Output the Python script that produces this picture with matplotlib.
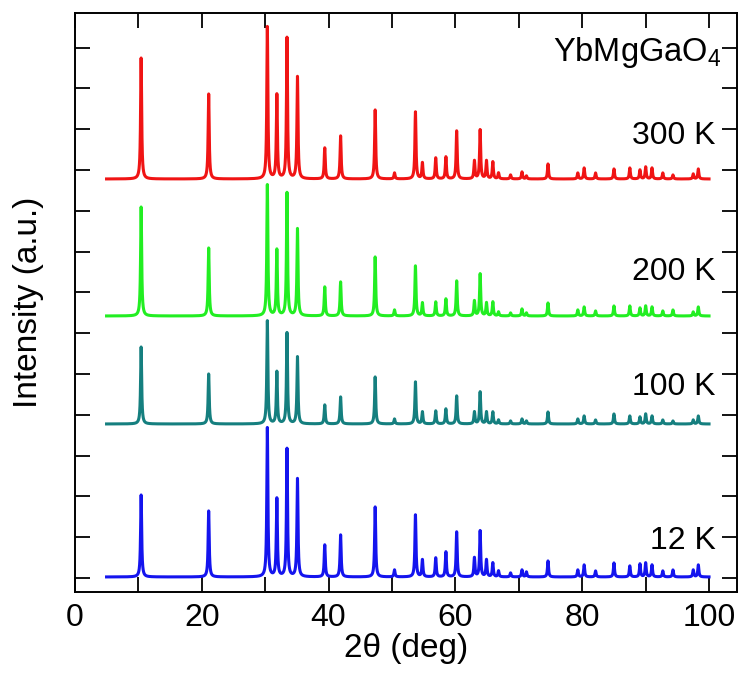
"""Stacked powder XRD patterns of YbMgGaO4 at several temperatures."""

import numpy as np
import matplotlib

matplotlib.use("Agg")
import matplotlib.pyplot as plt
from matplotlib.ticker import MultipleLocator, NullFormatter

plt.rcParams["font.family"] = ["Liberation Sans", "DejaVu Sans"]
plt.rcParams["mathtext.default"] = "regular"

# Bragg peak positions (2theta, deg), shared by all temperatures
peak_pos = [10.45, 21.1, 30.35, 31.85, 33.45, 35.1, 39.4, 41.9, 47.35, 50.4,
            53.7, 54.8, 56.9, 58.5, 60.2, 63.0, 63.9, 64.9, 65.9, 66.8,
            68.7, 70.5, 71.2, 74.6, 79.3, 80.3, 82.1, 85.0, 87.5, 89.1,
            90.0, 91.0, 92.7, 94.3, 97.5, 98.3]

# peak heights (a.u.), one list per temperature
h_300K = [121, 85, 152, 84, 141, 102, 31, 43, 69, 6, 67, 16, 21, 22, 48, 18,
          49, 18, 17, 6, 4, 7, 3, 15, 6, 11, 6, 10, 11, 9, 12, 11, 6, 4, 5, 10]
h_200K = [109, 68, 131, 66, 123, 87, 29, 34, 59, 6, 50, 13, 14, 17, 35, 15,
          42, 13, 14, 4, 3, 7, 3, 13, 6, 9, 5, 10, 10, 8, 10, 9, 5, 6, 4, 9]
h_100K = [77, 50, 103, 52, 91, 67, 19, 27, 47, 5, 42, 12, 13, 15, 28, 12,
          32, 12, 12, 4, 3, 5, 3, 12, 5, 8, 4, 10, 8, 7, 10, 8, 4, 3, 4, 8]
h_12K = [82, 66, 149, 78, 128, 98, 32, 42, 70, 7, 62, 17, 19, 25, 45, 19,
         46, 17, 14, 6, 4, 7, 5, 16, 7, 12, 6, 14, 11, 13, 14, 12, 6, 7, 7, 12]

temps = ["300 K", "200 K", "100 K", "12 K"]
offsets = [399, 262, 154, 1]
label_y = [442, 306, 191, 37]
colors = ["#f01414", "#22ee22", "#157f7f", "#1414ee"]
heights = [h_300K, h_200K, h_100K, h_12K]

x_min, x_max = 5.0, 100.0


def pattern(x, heights, fwhm=0.2):
    y = np.zeros_like(x)
    g = fwhm / 2
    for pos, h in zip(peak_pos, heights):
        y += h * g**2 / ((x - pos) ** 2 + g**2)
    return y


fig = plt.figure(figsize=(7.41, 6.77), dpi=100)
ax = fig.add_axes([0.101, 0.1256, 0.8936, 0.8552])

two_theta = np.arange(x_min, x_max, 0.01)
for temp, off, ly, color, h in zip(temps, offsets, label_y, colors, heights):
    ax.plot(two_theta, pattern(two_theta, h) + off, color=color, lw=2.2)
    ax.text(101, ly, temp, ha="right", va="center", fontsize=23)

ax.text(101.9, 525, "YbMgGaO$_4$", ha="right", va="center", fontsize=23.5)

ax.set_xlim(0, 104.4)
ax.set_ylim(-14, 565)
ax.xaxis.set_major_locator(MultipleLocator(20))
ax.xaxis.set_minor_locator(MultipleLocator(10))
ax.yaxis.set_major_locator(MultipleLocator(40.8))
ax.yaxis.set_major_formatter(NullFormatter())
ax.tick_params(which="both", direction="in", top=True, right=True,
               length=11, width=1.3, labelsize=23, pad=8)
for spine in ax.spines.values():
    spine.set_linewidth(1.4)

ax.set_xlabel("2θ (deg)", fontsize=24, labelpad=0)
ax.set_ylabel("Intensity (a.u.)", fontsize=24, labelpad=14)

fig.savefig("out.png", dpi=100)
